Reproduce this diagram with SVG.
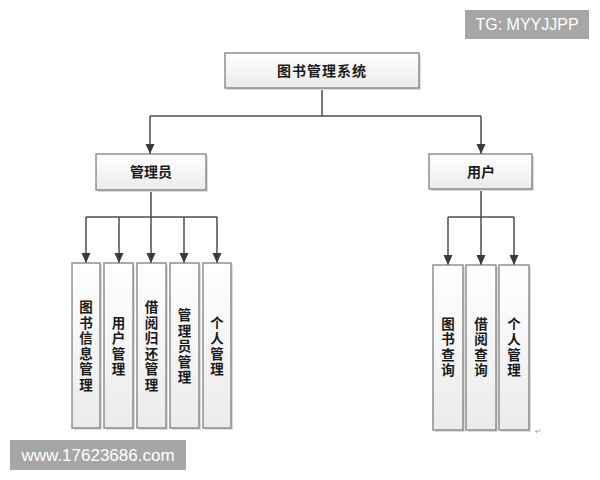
<svg xmlns="http://www.w3.org/2000/svg" width="600" height="480" viewBox="0 0 600 480">
<style>
.box{fill:url(#g);stroke:#7f7f7f;stroke-width:1.3}
.sh{fill:#dcdcdc}
.lbl{font-family:"Noto Sans CJK SC","Noto Sans CJK JP",sans-serif;font-weight:bold;font-size:14px;fill:#1a1a1a;text-anchor:middle}
.v{font-size:13.5px;writing-mode:vertical-rl;letter-spacing:2px}
.conn{stroke:#4d4d4d;stroke-width:1.5;fill:none}
.wm{fill:#a6a6a6}
.wmt{font-family:"Liberation Sans",Arial,sans-serif;fill:#ffffff}
</style>
<defs>
<linearGradient id="g" x1="0" y1="0" x2="0" y2="1">
<stop offset="0" stop-color="#ffffff"/>
<stop offset="1" stop-color="#ebebeb"/>
</linearGradient>
<marker id="arr" markerUnits="userSpaceOnUse" markerWidth="10" markerHeight="10" viewBox="0 0 10 10" refX="10" refY="5" orient="auto">
<path d="M0,0.5 L10,5 L0,9.5 Z" fill="#3a3a3a"/>
</marker>
</defs>
<rect width="600" height="480" fill="#ffffff"/>

<g id="connectors">
<path class="conn" d="M322,88 V116 M150,116 H481"/>
<path class="conn" d="M150,116 V154" marker-end="url(#arr)"/>
<path class="conn" d="M481,116 V154" marker-end="url(#arr)"/>
<path class="conn" d="M151,190 V217 M86,217 H217"/>
<path class="conn" d="M86,217 V263" marker-end="url(#arr)"/>
<path class="conn" d="M119,217 V263" marker-end="url(#arr)"/>
<path class="conn" d="M151,217 V263" marker-end="url(#arr)"/>
<path class="conn" d="M184,217 V263" marker-end="url(#arr)"/>
<path class="conn" d="M217,217 V263" marker-end="url(#arr)"/>
<path class="conn" d="M481,189 V217 M448,217 H514"/>
<path class="conn" d="M448,217 V265" marker-end="url(#arr)"/>
<path class="conn" d="M481,217 V265" marker-end="url(#arr)"/>
<path class="conn" d="M514,217 V265" marker-end="url(#arr)"/>
</g>

<g id="root">
<rect class="sh" x="227" y="55" width="194" height="35"/>
<rect class="box" x="225" y="53" width="194" height="35"/>
<text class="lbl" x="322" y="75.5" letter-spacing="1">图书管理系统</text>
</g>

<g id="admin">
<rect class="sh" x="98" y="156" width="110" height="36"/>
<rect class="box" x="96" y="154" width="110" height="36"/>
<text class="lbl" x="151" y="177">管理员</text>
</g>

<g id="user">
<rect class="sh" x="431" y="156" width="103" height="35"/>
<rect class="box" x="429" y="154" width="103" height="35"/>
<text class="lbl" x="481" y="177">用户</text>
</g>

<g id="a1">
<rect class="sh" x="74" y="265" width="28" height="165"/>
<rect class="box" x="72" y="263" width="28" height="165"/>
<text class="lbl v" x="86" y="347">图书信息管理</text>
</g>
<g id="a2">
<rect class="sh" x="106" y="265" width="29" height="165"/>
<rect class="box" x="104" y="263" width="29" height="165"/>
<text class="lbl v" x="118.5" y="347">用户管理</text>
</g>
<g id="a3">
<rect class="sh" x="139" y="265" width="29" height="165"/>
<rect class="box" x="137" y="263" width="29" height="165"/>
<text class="lbl v" x="151.5" y="347">借阅归还管理</text>
</g>
<g id="a4">
<rect class="sh" x="172" y="265" width="29" height="165"/>
<rect class="box" x="170" y="263" width="29" height="165"/>
<text class="lbl v" x="184.5" y="347">管理员管理</text>
</g>
<g id="a5">
<rect class="sh" x="205" y="265" width="28" height="165"/>
<rect class="box" x="203" y="263" width="28" height="165"/>
<text class="lbl v" x="217" y="347">个人管理</text>
</g>

<g id="u1">
<rect class="sh" x="435" y="267" width="30" height="165"/>
<rect class="box" x="433" y="265" width="30" height="165"/>
<text class="lbl v" x="448" y="348">图书查询</text>
</g>
<g id="u2">
<rect class="sh" x="468" y="267" width="30" height="165"/>
<rect class="box" x="466" y="265" width="30" height="165"/>
<text class="lbl v" x="481" y="348">借阅查询</text>
</g>
<g id="u3">
<rect class="sh" x="501" y="267" width="30" height="165"/>
<rect class="box" x="499" y="265" width="30" height="165"/>
<text class="lbl v" x="514" y="348">个人管理</text>
</g>

<text x="535" y="434" font-family="DejaVu Sans,sans-serif" font-size="8" fill="#999999">↵</text>

<g id="wm-tg">
<rect class="wm" x="465" y="10" width="124" height="29"/>
<text class="wmt" x="527" y="30" font-size="16" text-anchor="middle">TG: MYYJJPP</text>
</g>
<g id="wm-www">
<rect class="wm" x="10" y="440" width="176" height="30"/>
<text class="wmt" x="98" y="461" font-size="17" text-anchor="middle">www.17623686.com</text>
</g>
</svg>
